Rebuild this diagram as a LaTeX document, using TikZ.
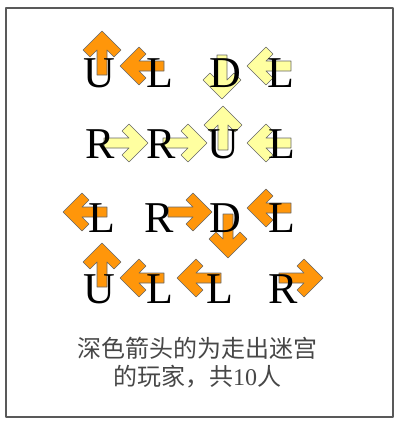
\documentclass[tikz,border=0pt]{standalone}
\usepackage{fontspec}
\setmainfont{Liberation Serif}
\newfontfamily\cjk{Noto Sans CJK SC}
\usetikzlibrary{calc}

\definecolor{darkarrow}{RGB}{255,150,10}
\definecolor{lightarrow}{RGB}{255,255,160}

\begin{document}
\begin{tikzpicture}[
  x=1pt,y=-1pt,
  line join=round,
  letter/.style={anchor=base,inner sep=0pt,font=\fontsize{44}{44}\selectfont},
  dark/.style={fill=darkarrow,draw=black!60,line width=0.6pt},
  light/.style={fill=lightarrow,draw=black!60,line width=0.6pt},
  caption/.style={align=center,text=black!72,font=\cjk\fontsize{24}{28}\selectfont},
  barrow/.pic={
    \path[pic actions] (0,0) -- (-19,19) -- (-26,12) -- (-19,5) -- (-44,5)
      -- (-44,-5) -- (-19,-5) -- (-26,-12) -- (-19,-19) -- cycle;
  }
]
\useasboundingbox (0,0) rectangle (413,431);

% frame
\draw[black!65,line width=1.2pt] (6,8) rectangle (393,417);

% row 1
\pic[dark,rotate=90]   at (102,31)  {barrow};
\pic[dark,rotate=180]  at (120,66)  {barrow};
\pic[light,rotate=-90] at (222,99)  {barrow};
\pic[light,rotate=180] at (247,66)  {barrow};
\node[letter] (r1c1) at (99,87)  {U};
\node[letter] (r1c2) at (160,87) {L};
\node[letter] (r1c3) at (225,87) {D};
\node[letter] (r1c4) at (281,87) {L};

% row 2
\pic[light]            at (148,143) {barrow};
\pic[light]            at (207,143) {barrow};
\pic[light,rotate=90]  at (223,106) {barrow};
\pic[light,rotate=180] at (247,143) {barrow};
\node[letter] (r2c1) at (100,158) {R};
\node[letter] (r2c2) at (161,158) {R};
\node[letter] (r2c3) at (223,158) {U};
\node[letter] (r2c4) at (282,158) {L};

% row 3
\pic[dark,rotate=180]  at (63,212)  {barrow};
\pic[dark]             at (212,212) {barrow};
\pic[dark,rotate=-90]  at (228,258) {barrow};
\pic[dark,rotate=180]  at (247,208) {barrow};
\node[letter] (r3c1) at (102,232) {L};
\node[letter] (r3c2) at (159,232) {R};
\node[letter] (r3c3) at (225,232) {D};
\node[letter] (r3c4) at (282,232) {L};

% row 4
\pic[dark,rotate=90]   at (102,243) {barrow};
\pic[dark,rotate=180]  at (120,278) {barrow};
\pic[dark,rotate=180]  at (177,278) {barrow};
\pic[dark]             at (323,278) {barrow};
\node[letter] (r4c1) at (99,303)  {U};
\node[letter] (r4c2) at (160,303) {L};
\node[letter] (r4c3) at (220,303) {L};
\node[letter] (r4c4) at (283,303) {R};

% caption
\node[caption] (caption) at (197,363) {深色箭头的为走出迷宫\\的玩家，共\rmfamily 10\cjk 人};

\end{tikzpicture}
\end{document}
